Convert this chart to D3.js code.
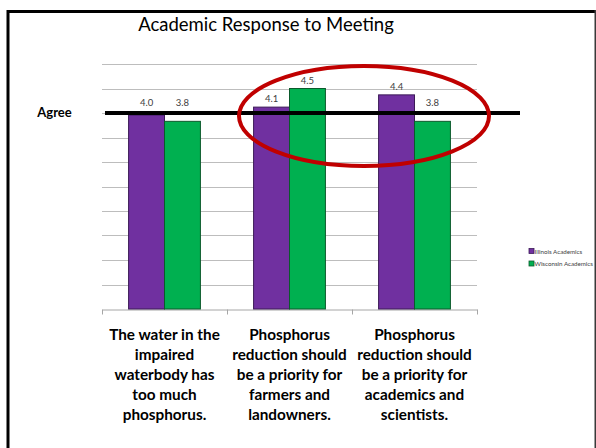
<!DOCTYPE html>
<html>
<head>
<meta charset="utf-8">
<script src="https://cdn.jsdelivr.net/npm/d3@7"></script>
<style>
    body { margin: 0; background: #fff; }
    svg { display: block; }
</style>
</head>
<body>
<script>
"use strict";
// data
const categories = [
    ["The water in the", "impaired", "waterbody has", "too much", "phosphorus."],
    ["Phosphorus", "reduction should", "be a priority for", "farmers and", "landowners."],
    ["Phosphorus", "reduction should", "be a priority for", "academics and", "scientists."]
]
const seriesNames = ["Illinois Academics", "Wisconsin Academics"]
const illinois = [3.96, 4.12, 4.37]
const wisconsin = [3.83, 4.5, 3.83]
const yTicks = [0, 0.5, 1, 1.5, 2, 2.5, 3, 3.5, 4, 4.5, 5]
const agreeLevel = 4

const colors = ["#7030A0", "#00B050"]
const strokes = ["#3c1a57", "#0b5a2c"]

const measurements = { width: 596, height: 448 }

const svg = d3.select("body").append("svg")
    .attr("width", measurements.width)
    .attr("height", measurements.height)

// slide frame
svg.append("line").attr("x1", 7).attr("x2", 596).attr("y1", 11.5).attr("y2", 11.5)
    .attr("stroke", "#000").attr("stroke-width", 3)
svg.append("line").attr("x1", 8).attr("x2", 8).attr("y1", 10).attr("y2", 448)
    .attr("stroke", "#000").attr("stroke-width", 3)
svg.append("line").attr("x1", 595.5).attr("x2", 595.5).attr("y1", 10).attr("y2", 448)
    .attr("stroke", "#3a3a3a").attr("stroke-width", 2)

svg.append("text")
    .attr("x", 266).attr("y", 31)
    .attr("text-anchor", "middle")
    .attr("font-family", "Lato, 'Open Sans', sans-serif")
    .attr("font-size", 18.5)
    .attr("fill", "#000")
    .text("Academic Response to Meeting")

const scaleX = d3.scaleBand()
    .domain(d3.range(categories.length))
    .range([102, 477])
const scaleSeries = d3.scaleBand()
    .domain(d3.range(seriesNames.length))
    .range([0, scaleX.bandwidth()])
    .paddingOuter(0.74)
const scaleY = d3.scaleLinear()
    .domain([0, 5])
    .range([309, 64])

// gridlines
svg.append("g")
    .selectAll("line")
    .data(yTicks.slice(1))
    .enter()
    .append("line")
        .attr("x1", 102).attr("x2", 477)
        .attr("y1", d => Math.round(scaleY(d)) + 0.5)
        .attr("y2", d => Math.round(scaleY(d)) + 0.5)
        .attr("stroke", "#bdbdbd")

// category axis
const xAxis = d3.axisBottom(scaleX).tickValues([]).tickSizeOuter(0)
const axisG = svg.append("g")
    .attr("transform", "translate(0," + (Math.round(scaleY(0)) + 0.5) + ")")
    .call(xAxis)
axisG.select(".domain").attr("stroke", "#a6a6a6")
axisG.selectAll(".sep")
    .data(d3.range(categories.length + 1))
    .enter()
    .append("line")
        .attr("class", "sep")
        .attr("x1", d => Math.round(102 + d * scaleX.step()) + 0.5)
        .attr("x2", d => Math.round(102 + d * scaleX.step()) + 0.5)
        .attr("y1", 0).attr("y2", 5)
        .attr("stroke", "#a6a6a6")

// bars
const series = [illinois, wisconsin]
const rows = []
series.forEach((vals, s) => vals.forEach((v, i) => rows.push({ s: s, i: i, v: v })))

svg.append("g")
    .selectAll("rect")
    .data(rows)
    .enter()
    .append("rect")
        .attr("x", d => scaleX(d.i) + scaleSeries(d.s))
        .attr("y", d => scaleY(d.v))
        .attr("width", scaleSeries.bandwidth())
        .attr("height", d => scaleY(0) - scaleY(d.v))
        .attr("fill", d => colors[d.s])
        .attr("stroke", d => strokes[d.s])
        .attr("stroke-width", 1)

// value labels, pushed up above the agree line
const agreeY = scaleY(agreeLevel)
svg.append("g")
    .selectAll("text")
    .data(rows)
    .enter()
    .append("text")
        .attr("x", d => scaleX(d.i) + scaleSeries(d.s) + scaleSeries.bandwidth() / 2)
        .attr("y", d => Math.min(scaleY(d.v), agreeY - 2) - 5)
        .attr("text-anchor", "middle")
        .attr("font-family", "Lato, 'Open Sans', sans-serif")
        .attr("font-size", 9.5)
        .attr("fill", "#404040")
        .text(d => d3.format(".1f")(d.v))

// agree line
svg.append("line")
    .attr("x1", 105).attr("x2", 520)
    .attr("y1", agreeY).attr("y2", agreeY)
    .attr("stroke", "#000").attr("stroke-width", 4)
svg.append("text")
    .attr("x", 54.5).attr("y", agreeY + 3.5)
    .attr("text-anchor", "middle")
    .attr("font-family", "Lato, 'Open Sans', sans-serif")
    .attr("font-weight", "bold")
    .attr("font-size", 13)
    .text("Agree")

// red ellipse
svg.append("ellipse")
    .attr("cx", 364).attr("cy", 116)
    .attr("rx", 125).attr("ry", 50)
    .attr("fill", "none")
    .attr("stroke", "#C00000")
    .attr("stroke-width", 4)

// category labels
const catG = svg.append("g")
categories.forEach((lines, i) => {
    const t = catG.append("text")
        .attr("text-anchor", "middle")
        .attr("font-family", "Lato, 'Open Sans', sans-serif")
        .attr("font-weight", "bold")
        .attr("font-size", 15.3)
        .attr("fill", "#000")
    t.selectAll("tspan")
        .data(lines)
        .enter()
        .append("tspan")
            .attr("x", scaleX(i) + scaleX.bandwidth() / 2)
            .attr("y", (d, k) => 340 + k * 20)
            .text(d => d)
})

// legend
const legend = svg.append("g")
seriesNames.forEach((name, s) => {
    const ly = 251.5 + s * 12.5
    legend.append("rect")
        .attr("x", 529).attr("y", ly - 3)
        .attr("width", 5).attr("height", 5)
        .attr("fill", colors[s])
        .attr("stroke", strokes[s])
        .attr("stroke-width", 0.8)
    legend.append("text")
        .attr("x", 534.5).attr("y", ly + 2.3)
        .attr("font-family", "Lato, 'Open Sans', sans-serif")
        .attr("font-size", 6.2)
        .attr("fill", "#404040")
        .text(name)
})
</script>
</body>
</html>
